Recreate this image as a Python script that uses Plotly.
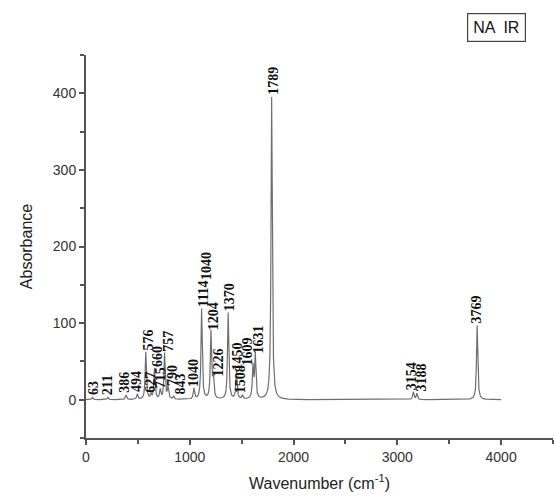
import numpy as np
import plotly.graph_objects as go

# Peak wavenumbers (cm-1), peak heights (absorbance) and the labels printed over them
peak_pos = [63, 211, 386, 494, 576, 627, 660, 715, 757, 790, 843, 1040, 1114,
            1204, 1226, 1370, 1450, 1508, 1609, 1631, 1789, 3154, 3188, 3769]
peak_height = [3, 3, 6, 7, 62, 6, 40, 12, 60, 16, 4, 14, 118,
               88, 28, 113, 36, 5, 42, 58, 395, 10, 8, 97]
peak_label = ["63", "211", "386", "494", "576", "627", "660", "715", "757", "790", "843", "1040", "1114",
              "1204", "1226", "1370", "1450", "1508", "1609", "1631", "1789", "3154", "3188", "3769"]
# extra label stacked above the 1114 label
extra_label_pos = [1114]
extra_label_text = ["1040"]

# horizontal pixel nudges for the rotated labels (styling only)
label_dx = [1, -1, -1, 0, 3, 0, 3, 0, 4, 5, 7, 0, 2,
            2, 5, 1, 1, -2, -5, 3, 1, -2, 5, -1]

fwhm = 14.0
wn = np.linspace(0, 4000, 8001)
spec = np.zeros_like(wn)
hw = fwhm / 2
for p, h in zip(peak_pos, peak_height):
    spec += h / (1 + ((wn - p) / hw) ** 2)

fig = go.Figure()
fig.add_trace(go.Scatter(x=wn, y=spec, mode="lines",
                         line=dict(color="#6e6e6e", width=1.2),
                         hoverinfo="skip", showlegend=False))

lab_font = dict(family="Liberation Serif", size=14, color="#111")
for p, h, t, dx in zip(peak_pos, peak_height, peak_label, label_dx):
    fig.add_annotation(x=p, y=h, text="<b>" + t + "</b>", textangle=-90,
                       showarrow=False, xanchor="center", yanchor="bottom",
                       xshift=dx, yshift=0, font=lab_font)
for p, t in zip(extra_label_pos, extra_label_text):
    h = peak_height[peak_pos.index(p)]
    fig.add_annotation(x=p, y=h, text="<b>" + t + "</b>", textangle=-90,
                       showarrow=False, xanchor="center", yanchor="bottom",
                       xshift=5, yshift=27, font=lab_font)

fig.add_annotation(x=0.878, y=1.073, xref="paper", yref="paper", text="NA  IR",
                   showarrow=False, bordercolor="#444", borderwidth=1.2, borderpad=5,
                   font=dict(family="Liberation Sans", size=16, color="#111"),
                   xanchor="center", yanchor="middle", bgcolor="white")

axis_font = dict(family="Liberation Sans", size=14, color="#333")
fig.update_xaxes(range=[0, 4500], tickvals=[0, 1000, 2000, 3000, 4000],
                 ticks="outside", ticklen=5, tickwidth=1.5, tickcolor="#555",
                 minor=dict(tickvals=[500, 1500, 2500, 3500, 4500], ticks="outside",
                            ticklen=4, tickwidth=1.5, tickcolor="#555"),
                 showline=True, linecolor="#555", linewidth=2, showgrid=False, zeroline=False,
                 tickfont=axis_font,
                 title=dict(text="Wavenumber (cm<sup>-1</sup>)",
                            font=dict(family="Liberation Sans", size=16, color="#222"),
                            standoff=14))
fig.update_yaxes(range=[-50, 450], tickvals=[0, 100, 200, 300, 400],
                 ticks="outside", ticklen=5, tickwidth=1.5, tickcolor="#555",
                 minor=dict(tickvals=[-50, 50, 150, 250, 350, 450], ticks="outside",
                            ticklen=4, tickwidth=1.5, tickcolor="#555"),
                 showline=True, linecolor="#555", linewidth=2, showgrid=False, zeroline=False,
                 tickfont=axis_font,
                 title=dict(text="Absorbance",
                            font=dict(family="Liberation Sans", size=16, color="#222"),
                            standoff=16))

fig.update_layout(width=555, height=499, margin=dict(l=86, r=2, t=55, b=61),
                  paper_bgcolor="white", plot_bgcolor="white")

fig.write_html("out.html")
